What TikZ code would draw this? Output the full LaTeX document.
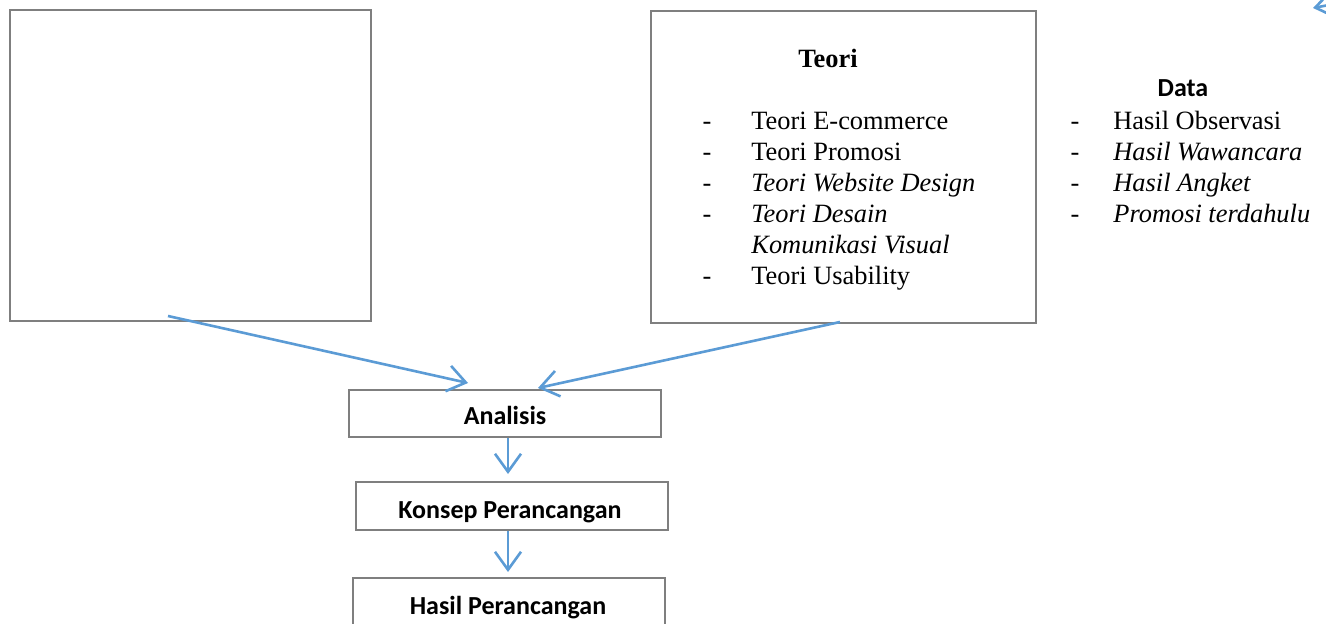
\documentclass[tikz,border=0pt]{standalone}
\usepackage{fontspec}
\setmainfont{Liberation Serif}
\newfontfamily\calib{Carlito}
\usetikzlibrary{arrows.meta}
\definecolor{boxgray}{HTML}{7F7F7F}
\definecolor{arrblue}{HTML}{5B9BD5}
\begin{document}
\begin{tikzpicture}[x=0.5pt,y=-0.5pt,
  framebox/.style={draw=boxgray,line width=1pt,inner sep=0pt,anchor=north west},
  conn/.style={draw=arrblue,line width=1.3pt,-{Straight Barb[length=9pt,width=13pt,line width=1.3pt]}},
  txt/.style={inner sep=0pt,anchor=base west,font=\fontsize{13.2}{15}\selectfont},
  ctxt/.style={inner sep=0pt,anchor=base,font=\fontsize{13.2}{15}\selectfont},
  sfb/.style={inner sep=0pt,anchor=base,font=\calib\bfseries\fontsize{13}{15}\selectfont}]
\clip (0,0) rectangle (1326,624);
\fill[white] (0,0) rectangle (1326,624);
% boxes
\node[framebox,minimum width=180.5pt,minimum height=155.5pt] (left) at (9,9) {};
\node[framebox,minimum width=192.5pt,minimum height=156pt] (teoribox) at (650,10) {};
\node[framebox,minimum width=156pt,minimum height=23.5pt] (ana) at (348,389) {};
\node[framebox,minimum width=156pt,minimum height=24pt] (kon) at (355,481) {};
\node[framebox,minimum width=156pt,minimum height=25pt] (has) at (352,577) {};
% texts
\node[sfb] (tanal) at (505,424) {Analisis};
\node[sfb] (tkon) at (510,518) {Konsep Perancangan};
\node[sfb] (thas) at (508,614) {Hasil Perancangan};
% Teori
\node[ctxt,font=\bfseries\fontsize{13.2}{15}\selectfont] (teori) at (828,68) {Teori};
\foreach \y/\t [count=\i] in {130/{Teori E-commerce},161/{Teori Promosi},192/{\textit{Teori Website Design}},223/{\textit{Teori Desain}},285/{Teori Usability}}{
  \node[txt] (t\i) at (751,\y) {\t};
  \node[ctxt] (td\i) at (707,\y) {-};
}
\node[txt] (tk) at (751,254) {\textit{Komunikasi Visual}};
% Data
\node[sfb] (data) at (1183,97) {Data};
\foreach \y/\t [count=\i] in {130/{Hasil Observasi},161/{\textit{Hasil Wawancara}},192/{\textit{Hasil Angket}},223/{\textit{Promosi terdahulu}}}{
  \node[txt] (d\i) at (1113,\y) {\t};
  \node[ctxt] (dd\i) at (1075,\y) {-};
}
% connectors
\coordinate (lb) at (168,316);
\coordinate (tb) at (840,322);
\coordinate (anaL) at (468,383);
\coordinate (anaR) at (538,388);
\draw[conn] (lb) -- (anaL);
\draw[conn] (tb) -- (anaR);
\draw[conn] (ana.south -| 508,0) -- (508,474);
\draw[conn] (kon.south -| 508,0) -- (508,572);
\coordinate (trs) at (1345,2);
\coordinate (trt) at (1313,8);
\draw[conn] (trs) -- (trt);
\end{tikzpicture}
\end{document}
